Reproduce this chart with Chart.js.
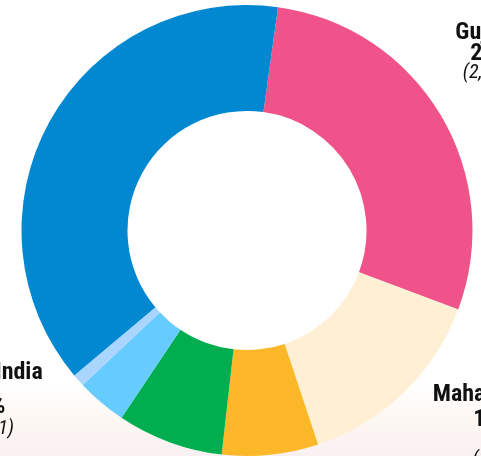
<!DOCTYPE html>
<html>
<head>
<meta charset="utf-8">
<script src="https://cdn.jsdelivr.net/npm/chart.js@4.4.1/dist/chart.umd.min.js"></script>
<style>
    html, body { margin: 0; padding: 0; background: #fff; }
    #wrap {
        width: 481px; height: 456px; position: relative; overflow: hidden;
        background: linear-gradient(180deg, #ffffff 0%, #ffffff 84%, #fdf7f2 92%, #f9f0f2 100%);
    }
</style>
</head>
<body>
<div id="wrap"><canvas id="donut"></canvas></div>
<script>
/* ---------- data ---------- */
const states = ['Gujarat', 'Maharashtra', 'Karnataka', 'Tamil Nadu', 'Rest of India', 'Others', 'Remaining'];
const shares = [28.5, 14.2, 6.9, 7.6, 3.6, 0.9, 38.3];
const counts = ['2,852', '142', '690', '760', '13,611', '90', '3,830'];
const colors = ['#ef538a', '#fff0d5', '#fcb829', '#00ae4f', '#66cbff', '#aad5ff', '#0288d1'];

// labels visible in the picture: index into the arrays + offset from the donut centre
const labelSpots = [
    { i: 0, dx: 243, lines: [-192, -171, -153] },
    { i: 1, dx: 246, lines: [170, 195, 234] },
    { i: 4, dx: -265, lines: [148, 182, 203] }
];

const FONT = '"Liberation Sans Narrow", "Arial Narrow", "Roboto Condensed", sans-serif';

function pct(v) {
    return (v < 10 ? v.toFixed(1) : Math.round(v)) + '%';
}

const calloutPlugin = {
    id: 'callouts',
    afterDraw(chart) {
        const arc = chart.getDatasetMeta(0).data[0];
        const cx = arc.x, cy = arc.y;
        const ctx = chart.ctx;
        ctx.save();
        ctx.fillStyle = '#111';
        ctx.textAlign = 'center';
        ctx.textBaseline = 'alphabetic';
        labelSpots.forEach(s => {
            const x = cx + s.dx;
            ctx.font = 'bold 24px ' + FONT;
            ctx.fillText(states[s.i], x, cy + s.lines[0]);
            ctx.fillText(pct(shares[s.i]), x, cy + s.lines[1]);
            ctx.font = 'italic 20px ' + FONT;
            ctx.fillText('(' + counts[s.i] + ')', x, cy + s.lines[2]);
        });
        ctx.restore();
    }
};

new Chart(document.getElementById('donut'), {
    type: 'doughnut',
    data: {
        labels: states,
        datasets: [{ data: shares, backgroundColor: colors, borderWidth: 0, hoverOffset: 0 }]
    },
    options: {
        responsive: true,
        maintainAspectRatio: false,
        animation: false,
        cutout: '53%',
        rotation: 7.9,
        layout: { padding: { top: 5, left: 13, right: 0, bottom: 0 } },
        plugins: { legend: { display: false }, tooltip: { enabled: false } }
    },
    plugins: [calloutPlugin]
});
</script>
</body>
</html>
